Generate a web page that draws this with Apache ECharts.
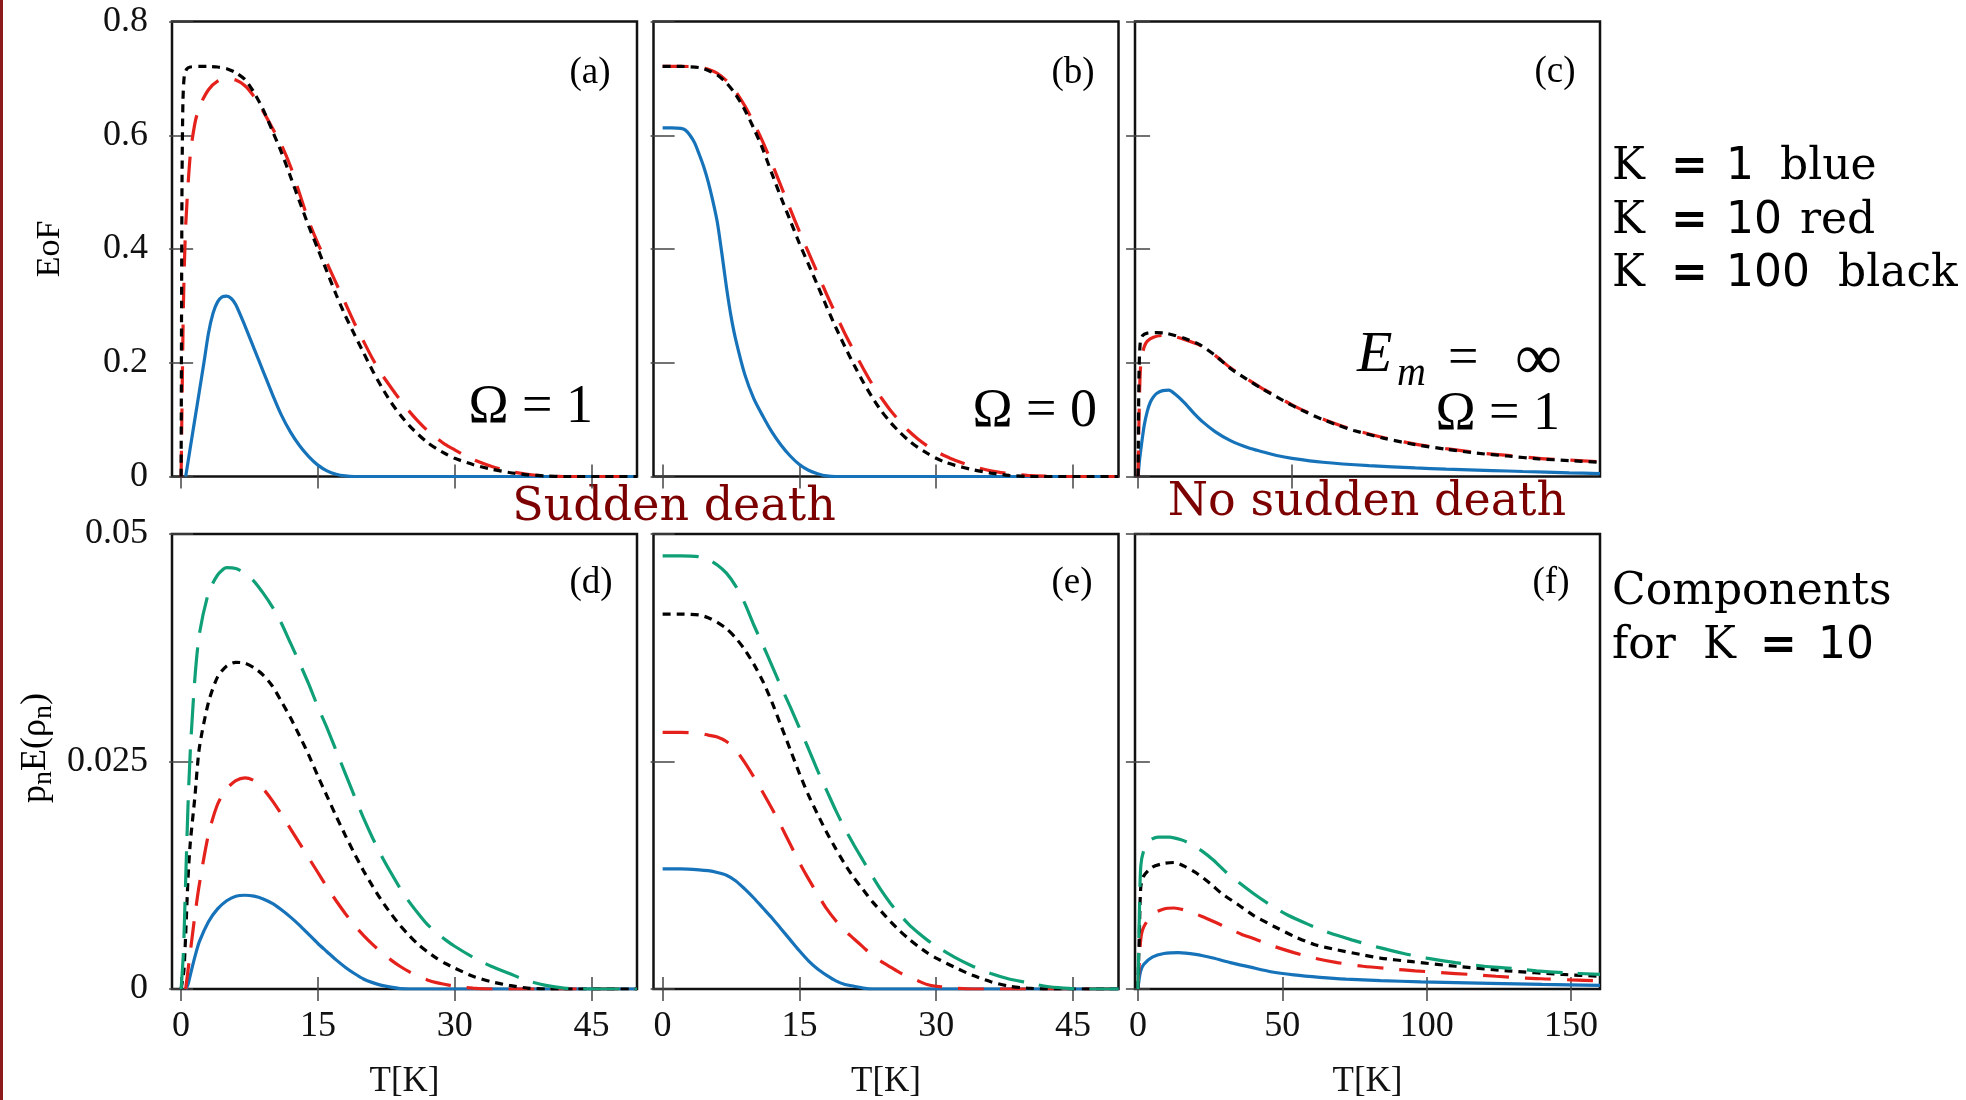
<!DOCTYPE html>
<html>
<head>
<meta charset="utf-8">
<title>EoF vs T</title>
<script src="https://cdn.jsdelivr.net/npm/echarts@6/dist/echarts.min.js"></script>
<style>
  html, body { margin: 0; padding: 0; background: #fff; }
  #chart { width: 1966px; height: 1100px; }
</style>
</head>
<body>
<div id="chart"></div>
<script>
// tick values
const tTicks = [0, 15, 30, 45];
const tTicksC = [0, 50];
const tTicksF = [0, 50, 100, 150];

// (a) EoF, Omega = 1
const aBlue = [[0.5,0],[1,0.05],[1.5,0.1],[2,0.15],[2.5,0.2],[3,0.252],[3.5,0.287],[4,0.307],[4.5,0.316],[5,0.317],[5.5,0.313],[6,0.302],[7,0.265],[8,0.225],[9,0.185],[10,0.145],[11,0.108],[12,0.078],[13,0.054],[14,0.035],[15,0.02],[16,0.01],[17,0.004],[18,0.001],[19,0],[50,0]];
const aRed = [[0,0],[0.25,0.3],[0.5,0.44],[1,0.565],[1.5,0.62],[2,0.65],[3,0.68],[4,0.695],[5,0.7],[6,0.697],[7,0.687],[8,0.668],[9,0.642],[10,0.613],[11,0.583],[12,0.545],[13,0.497],[14,0.449],[15,0.41],[16,0.375],[17,0.34],[18,0.305],[19,0.27],[20,0.238],[21,0.207],[22,0.18],[23,0.157],[24,0.135],[25,0.115],[26,0.097],[27,0.081],[28,0.068],[29,0.056],[30,0.047],[31,0.038],[32,0.03],[34,0.018],[36,0.009],[38,0.004],[40,0.001],[42,0],[50,0]];
const aBlack = [[0,0],[0.05,0.3],[0.1,0.52],[0.2,0.66],[0.35,0.705],[0.6,0.716],[1,0.72],[2,0.721],[3,0.721],[4,0.72],[5,0.717],[6,0.71],[7,0.698],[8,0.675],[9,0.645],[10,0.608],[11,0.57],[12,0.527],[13,0.483],[14,0.44],[15,0.4],[16,0.36],[17,0.32],[18,0.283],[19,0.25],[20,0.218],[21,0.186],[22,0.157],[23,0.131],[24,0.109],[25,0.09],[26,0.074],[27,0.06],[28,0.049],[29,0.04],[30,0.032],[32,0.021],[34,0.013],[36,0.007],[38,0.003],[40,0.001],[42,0],[50,0]];

// (b) EoF, Omega = 0
const bBlue = [[0,0.613],[1,0.613],[2,0.612],[2.5,0.609],[3,0.6],[3.5,0.587],[4,0.567],[4.5,0.545],[5,0.518],[5.5,0.485],[6,0.447],[6.5,0.392],[7,0.333],[7.5,0.282],[8,0.242],[9,0.18],[10,0.137],[11,0.106],[12,0.078],[13,0.055],[14,0.036],[15,0.021],[16,0.011],[17,0.005],[18,0.001],[19,0],[50,0]];
const bRed = [[0,0.721],[2,0.721],[4,0.72],[5,0.716],[6,0.709],[7,0.696],[8,0.677],[9,0.652],[10,0.622],[11,0.588],[12,0.55],[13,0.51],[14,0.47],[15,0.431],[16,0.394],[17,0.357],[18,0.32],[19,0.285],[20,0.251],[21,0.22],[22,0.19],[23,0.162],[24,0.138],[25,0.116],[26,0.097],[27,0.08],[28,0.066],[29,0.054],[30,0.044],[31,0.036],[32,0.029],[34,0.018],[36,0.01],[38,0.005],[40,0.002],[42,0.0005],[44,0],[50,0]];
const bBlack = [[0,0.721],[2,0.721],[4,0.719],[5,0.714],[6,0.706],[7,0.692],[8,0.672],[9,0.645],[10,0.612],[11,0.575],[12,0.532],[13,0.49],[14,0.45],[15,0.41],[16,0.373],[17,0.336],[18,0.298],[19,0.262],[20,0.228],[21,0.196],[22,0.166],[23,0.139],[24,0.115],[25,0.095],[26,0.078],[27,0.063],[28,0.051],[29,0.041],[30,0.032],[31,0.025],[32,0.02],[34,0.012],[36,0.006],[38,0.002],[40,0],[50,0]];

// (c) EoF, Em = inf, Omega = 1
const cBlue = [[0,0],[0.5,0.03],[1,0.052],[2,0.09],[3,0.115],[4,0.131],[5,0.14],[6,0.146],[8,0.151],[10,0.152],[12,0.145],[15,0.13],[18,0.112],[21,0.096],[25,0.079],[30,0.063],[36,0.05],[40,0.044],[45,0.037],[50,0.032],[60,0.025],[75,0.019],[90,0.015],[100,0.013],[115,0.0105],[125,0.0088],[140,0.0065],[150,0.005]];
const cRed = [[0,0],[0.3,0.1],[0.6,0.17],[1,0.205],[2,0.228],[3,0.238],[5,0.245],[8,0.248],[11,0.247],[15,0.241],[20,0.231],[25,0.213],[30,0.191],[35,0.173],[40,0.156],[45,0.141],[50,0.126],[55,0.113],[60,0.101],[65,0.091],[70,0.082],[80,0.068],[90,0.057],[100,0.049],[110,0.042],[120,0.037],[130,0.032],[140,0.029],[150,0.026]];
const cBlack = [[0,0],[0.3,0.18],[0.7,0.235],[1.5,0.248],[3,0.252],[6,0.253],[9,0.252],[12,0.248],[15,0.243],[20,0.232],[25,0.213],[30,0.19],[35,0.172],[40,0.155],[45,0.14],[50,0.125],[55,0.112],[60,0.1],[65,0.09],[70,0.081],[80,0.067],[90,0.056],[100,0.048],[110,0.041],[120,0.036],[130,0.031],[140,0.028],[150,0.025]];

// (d) components, K = 10, Omega = 1
const dBlue = [[0.5,0],[0.75,0.0005],[1,0.0015],[1.5,0.0035],[2,0.0052],[3,0.0074],[4,0.0088],[5,0.0097],[6,0.0102],[7,0.0103],[8,0.0102],[9,0.0099],[10,0.0094],[11,0.0087],[12,0.0079],[13,0.007],[14,0.006],[15,0.005],[16,0.0041],[17,0.0032],[18,0.0024],[19,0.0017],[20,0.0011],[21,0.0007],[22,0.0004],[23,0.0002],[24,0.00005],[25,0],[50,0]];
const dRed = [[0.5,0],[0.75,0.002],[1,0.004],[1.5,0.008],[2,0.0115],[3,0.017],[4,0.0203],[5,0.022],[6,0.0229],[7,0.0232],[8,0.0229],[9,0.022],[10,0.0207],[11,0.0192],[12,0.0176],[13,0.016],[14,0.0144],[15,0.0128],[16,0.0112],[17,0.0097],[18,0.0083],[19,0.007],[20,0.0059],[21,0.0049],[22,0.004],[23,0.0032],[24,0.0025],[25,0.0019],[26,0.0014],[27,0.001],[28,0.0007],[29,0.0005],[30,0.0003],[32,0.0001],[34,0],[50,0]];
const dBlack = [[0,0],[0.3,0.002],[0.5,0.006],[0.75,0.012],[1,0.016],[1.5,0.021],[2,0.0265],[3,0.0315],[4,0.0343],[5,0.0355],[6,0.0359],[7,0.0358],[8,0.0353],[9,0.0345],[10,0.0333],[11,0.0316],[12,0.0298],[13,0.0278],[14,0.0257],[15,0.0234],[16,0.0212],[17,0.019],[18,0.0169],[19,0.0149],[20,0.013],[21,0.0113],[22,0.0097],[23,0.0083],[24,0.007],[25,0.0059],[26,0.0049],[27,0.0041],[28,0.0034],[29,0.0028],[30,0.0023],[32,0.0014],[34,0.0008],[36,0.0004],[38,0.0001],[40,0],[50,0]];
const dGreen = [[0,0],[0.25,0.004],[0.5,0.012],[0.75,0.02],[1,0.026],[1.5,0.034],[2,0.039],[3,0.0435],[4,0.0455],[5,0.0463],[6,0.0462],[7,0.0457],[8,0.0448],[9,0.0435],[10,0.042],[11,0.0402],[12,0.038],[13,0.0358],[14,0.0335],[15,0.031],[16,0.0287],[17,0.0262],[18,0.0237],[19,0.0212],[20,0.0188],[21,0.0166],[22,0.0146],[23,0.0128],[24,0.0111],[25,0.0096],[26,0.0083],[27,0.0071],[28,0.0062],[29,0.0054],[30,0.0047],[32,0.0035],[34,0.0025],[36,0.0017],[38,0.0009],[40,0.0004],[42,0.0001],[44,0],[50,0]];

// (e) components, Omega = 0
const eBlue = [[0,0.0132],[2,0.0132],[4,0.0131],[5,0.013],[6,0.0128],[7,0.0125],[8,0.0119],[9,0.011],[10,0.01],[11,0.0089],[12,0.0078],[13,0.0066],[14,0.0054],[15,0.0042],[16,0.0031],[17,0.0022],[18,0.0015],[19,0.0009],[20,0.0005],[21,0.0003],[22,0.0001],[23,0],[50,0]];
const eRed = [[0,0.0282],[2,0.0282],[4,0.0281],[5,0.0279],[6,0.0277],[7,0.0272],[8,0.0263],[9,0.0249],[10,0.0233],[11,0.0216],[12,0.0198],[13,0.0179],[14,0.0159],[15,0.0139],[16,0.0121],[17,0.0104],[18,0.0088],[19,0.0075],[20,0.0064],[21,0.0055],[22,0.0046],[23,0.0037],[24,0.003],[25,0.0024],[26,0.0018],[27,0.0013],[28,0.0009],[29,0.0005],[30,0.0003],[32,0.0001],[34,0],[50,0]];
const eBlack = [[0,0.0412],[2,0.0412],[4,0.0411],[5,0.0408],[6,0.0403],[7,0.0396],[8,0.0386],[9,0.0373],[10,0.0357],[11,0.0338],[12,0.0315],[13,0.0289],[14,0.0263],[15,0.0237],[16,0.0213],[17,0.0192],[18,0.0172],[19,0.0154],[20,0.0137],[21,0.0122],[22,0.0109],[23,0.0096],[24,0.0085],[25,0.0074],[26,0.0064],[27,0.0055],[28,0.0047],[29,0.004],[30,0.0034],[32,0.0024],[34,0.0015],[36,0.0008],[38,0.0003],[40,0.0001],[42,0],[50,0]];
const eGreen = [[0,0.0476],[2,0.0476],[4,0.0475],[5,0.0472],[6,0.0466],[7,0.0457],[8,0.0443],[9,0.0424],[10,0.04],[11,0.0378],[12,0.0355],[13,0.0332],[14,0.031],[15,0.0287],[16,0.0264],[17,0.024],[18,0.0218],[19,0.0196],[20,0.0176],[21,0.0158],[22,0.0141],[23,0.0124],[24,0.0108],[25,0.0094],[26,0.0082],[27,0.0071],[28,0.0062],[29,0.0054],[30,0.0047],[32,0.0035],[34,0.0025],[36,0.0017],[38,0.0011],[40,0.0007],[42,0.0003],[44,0.0001],[46,0],[50,0]];

// (f) components, Em = inf
const fBlue = [[0,0],[0.5,0.0012],[1,0.002],[2,0.0027],[5,0.0035],[9,0.0039],[14,0.004],[20,0.0038],[26,0.0034],[32,0.0029],[39,0.0024],[46,0.0019],[54,0.00155],[63,0.00128],[72,0.00108],[84,0.00092],[98,0.00079],[122,0.00062],[140,0.0005],[160,0.0004]];
const fRed = [[0,0],[0.5,0.003],[1,0.0055],[2,0.0068],[5,0.0082],[9,0.0088],[12.5,0.0089],[17,0.0086],[22,0.008],[27,0.0073],[31,0.0067],[36,0.006],[40.5,0.0055],[47,0.0047],[54,0.004],[61,0.0034],[69,0.0029],[78,0.0025],[88,0.0022],[96,0.002],[105,0.0018],[115,0.0016],[124,0.0014],[134,0.0012],[142,0.0011],[150,0.001],[160,0.0009]];
const fBlack = [[0,0],[0.5,0.006],[1,0.0112],[2,0.0124],[5,0.0134],[9,0.0138],[12.5,0.0139],[16,0.0135],[20,0.0128],[25,0.0116],[29,0.0105],[35,0.0092],[40,0.0081],[47,0.0069],[54,0.0058],[61,0.0049],[69,0.0043],[77,0.0038],[84,0.0034],[95,0.003],[110,0.0025],[128,0.002],[147,0.0016],[160,0.0014]];
const fGreen = [[0,0],[0.5,0.008],[1,0.0135],[2,0.0152],[4,0.0163],[7,0.0167],[11,0.0167],[15,0.0164],[18,0.016],[22,0.0152],[26,0.0142],[30,0.013],[35,0.0117],[40,0.0105],[46,0.0092],[52,0.0081],[59,0.0071],[66,0.0062],[74,0.0054],[83,0.0046],[92,0.0039],[100,0.0034],[110,0.0029],[120,0.0025],[128,0.0023],[138,0.002],[147,0.0018],[160,0.0016]];

const SERIF = '"Liberation Serif", "DejaVu Serif", serif';
const lineLook = {
  blue:  { color: '#1673ba', type: 'solid' },
  red:   { color: '#e5211c', type: [26, 16] },
  black: { color: '#000000', type: [8, 6] },
  green: { color: '#10a078', type: [36, 15] }
};

const panels = [
  { left: 172, top: 21.5, xMax: 50,  ticks: tTicks,  yMax: 0.8,  yStep: 0.2,   yLab: true,  xLab: false, lines: [[aBlue,'blue'],[aRed,'red'],[aBlack,'black']] },
  { left: 653.5, top: 21.5, xMax: 50,  ticks: tTicks,  yMax: 0.8,  yStep: 0.2,   yLab: false, xLab: false, lines: [[bBlue,'blue'],[bRed,'red'],[bBlack,'black']] },
  { left: 1135, top: 21.5, xMax: 150, ticks: tTicksC, yMax: 0.8,  yStep: 0.2,   yLab: false, xLab: false, lines: [[cBlue,'blue'],[cRed,'red'],[cBlack,'black']] },
  { left: 172, top: 534, xMax: 50,  ticks: tTicks,  yMax: 0.05, yStep: 0.025, yLab: true,  xLab: true,  lines: [[dBlue,'blue'],[dRed,'red'],[dBlack,'black'],[dGreen,'green']] },
  { left: 653.5, top: 534, xMax: 50,  ticks: tTicks,  yMax: 0.05, yStep: 0.025, yLab: false, xLab: true,  lines: [[eBlue,'blue'],[eRed,'red'],[eBlack,'black'],[eGreen,'green']] },
  { left: 1135, top: 534, xMax: 160, ticks: tTicksF, yMax: 0.05, yStep: 0.025, yLab: false, xLab: true,  lines: [[fBlue,'blue'],[fRed,'red'],[fBlack,'black'],[fGreen,'green']] }
];

const grid = [], xAxis = [], yAxis = [], series = [];
const tickStyle = { color: '#444', width: 1.5 };
const labelStyle = { fontFamily: SERIF, fontSize: 36, color: '#111' };

panels.forEach((p, i) => {
  grid.push({ left: p.left, top: p.top, width: 465, height: 455, show: true, borderColor: '#111', borderWidth: 2.5 });
  ['bottom', 'top'].forEach(pos => {
    xAxis.push({
      type: 'value', gridIndex: i, position: pos, min: -1, max: p.xMax,
      axisLine: { show: false }, splitLine: { show: false },
      axisTick: { show: true, inside: true, length: 12, lineStyle: tickStyle, customValues: p.ticks },
      axisLabel: Object.assign({ show: pos === 'bottom' && p.xLab, customValues: p.ticks, margin: 20 }, labelStyle),
      name: pos === 'bottom' && p.xLab ? 'T[K]' : '',
      nameLocation: 'middle', nameGap: 75,
      nameTextStyle: { fontFamily: SERIF, fontSize: 35, color: '#111' }
    });
  });
  ['left', 'right'].forEach(pos => {
    yAxis.push({
      type: 'value', gridIndex: i, position: pos, min: 0, max: p.yMax, interval: p.yStep,
      axisLine: { show: false }, splitLine: { show: false },
      axisTick: { show: true, inside: true, length: 12, lineStyle: tickStyle },
      axisLabel: Object.assign({ show: pos === 'left' && p.yLab, margin: 24 }, labelStyle)
    });
  });
  p.lines.forEach(([data, key]) => {
    series.push({
      type: 'line', xAxisIndex: 2 * i, yAxisIndex: 2 * i, data: data,
      showSymbol: false, smooth: 0.25, silent: true,
      lineStyle: { color: lineLook[key].color, type: lineLook[key].type, width: 3.2 }
    });
  });
});

function txt(x, y, text, size, extra) {
  extra = extra || {};
  const el = {
    type: 'text', x: x, y: y, silent: true,
    style: Object.assign({ text: text, fontSize: size, fontFamily: SERIF, fill: '#000', align: 'left', verticalAlign: 'middle' }, extra.style || {})
  };
  if (extra.rotation) el.rotation = extra.rotation;
  return el;
}

const DARKRED = '#7d0000';
const graphic = [
  { type: 'rect', shape: { x: 0, y: 0, width: 3, height: 1100 }, style: { fill: '#8c1a1a' }, silent: true },
  // panel tags
  txt(590, 73, '(a)', 37, { style: { align: 'center' } }),
  txt(1073, 73, '(b)', 37, { style: { align: 'center' } }),
  txt(1555, 72, '(c)', 37, { style: { align: 'center' } }),
  txt(591, 583, '(d)', 37, { style: { align: 'center' } }),
  txt(1072, 583, '(e)', 37, { style: { align: 'center' } }),
  txt(1551, 583, '(f)', 37, { style: { align: 'center' } }),
  // y-axis names
  txt(50, 249, 'EoF', 34, { style: { align: 'center' }, rotation: Math.PI / 2 }),
  txt(36, 748, '{a|p}{s|n}{a|E(ρ}{s|n}{a|)}', 34, {
    rotation: Math.PI / 2,
    style: {
      align: 'center',
      rich: {
        a: { fontFamily: SERIF, fontSize: 36, lineHeight: 44, verticalAlign: 'middle', fill: '#000' },
        s: { fontFamily: SERIF, fontSize: 28, lineHeight: 24, verticalAlign: 'bottom', fill: '#000' }
      }
    }
  }),
  // in-panel parameters
  txt(593, 408, 'Ω = 1', 54, { style: { align: 'right' } }),
  txt(1097, 412, 'Ω = 0', 54, { style: { align: 'right' } }),
  txt(1560, 415, 'Ω = 1', 54, { style: { align: 'right' } }),
  txt(1357, 356, 'E', 58, { style: { fontStyle: 'italic' } }),
  txt(1397, 374, 'm', 40, { style: { fontStyle: 'italic' } }),
  txt(1448, 360, '=', 54),
  txt(1562, 362, '∞', 66, { style: { align: 'right' } }),
  // row captions
  txt(674, 508, 'Sudden death', 46, { style: { align: 'center', fill: DARKRED, fontFamily: '"DejaVu Serif", serif' } }),
  txt(1367, 503, 'No sudden death', 46, { style: { align: 'center', fill: DARKRED, fontFamily: '"DejaVu Serif", serif' } })
];

// right-hand legend text
const RS = '"DejaVu Serif", serif', RN = '"DejaVu Sans", sans-serif';
const legendRows = [
  [168, [[1612, 'K', RS, 'normal'], [1671, '=', RN, 'bold'], [1726, '1', RN, 'normal'], [1780, 'blue', RS, 'normal']]],
  [222, [[1612, 'K', RS, 'normal'], [1671, '=', RN, 'bold'], [1726, '10', RN, 'normal'], [1800, 'red', RS, 'normal']]],
  [275, [[1612, 'K', RS, 'normal'], [1671, '=', RN, 'bold'], [1726, '100', RN, 'normal'], [1838, 'black', RS, 'normal']]],
  [593, [[1612, 'Components', RS, 'normal']]],
  [647, [[1612, 'for', RS, 'normal'], [1703, 'K', RS, 'normal'], [1760, '=', RN, 'bold'], [1818, '10', RN, 'normal']]]
];
legendRows.forEach(([y, parts]) => {
  parts.forEach(([x, t, f, w]) => {
    graphic.push(txt(x, y, t, 44, { style: { fontFamily: f, fontWeight: w } }));
  });
});

const chart = echarts.init(document.getElementById('chart'));
chart.setOption({
  animation: false,
  backgroundColor: '#fff',
  grid: grid,
  xAxis: xAxis,
  yAxis: yAxis,
  series: series,
  graphic: graphic
});
</script>
</body>
</html>
